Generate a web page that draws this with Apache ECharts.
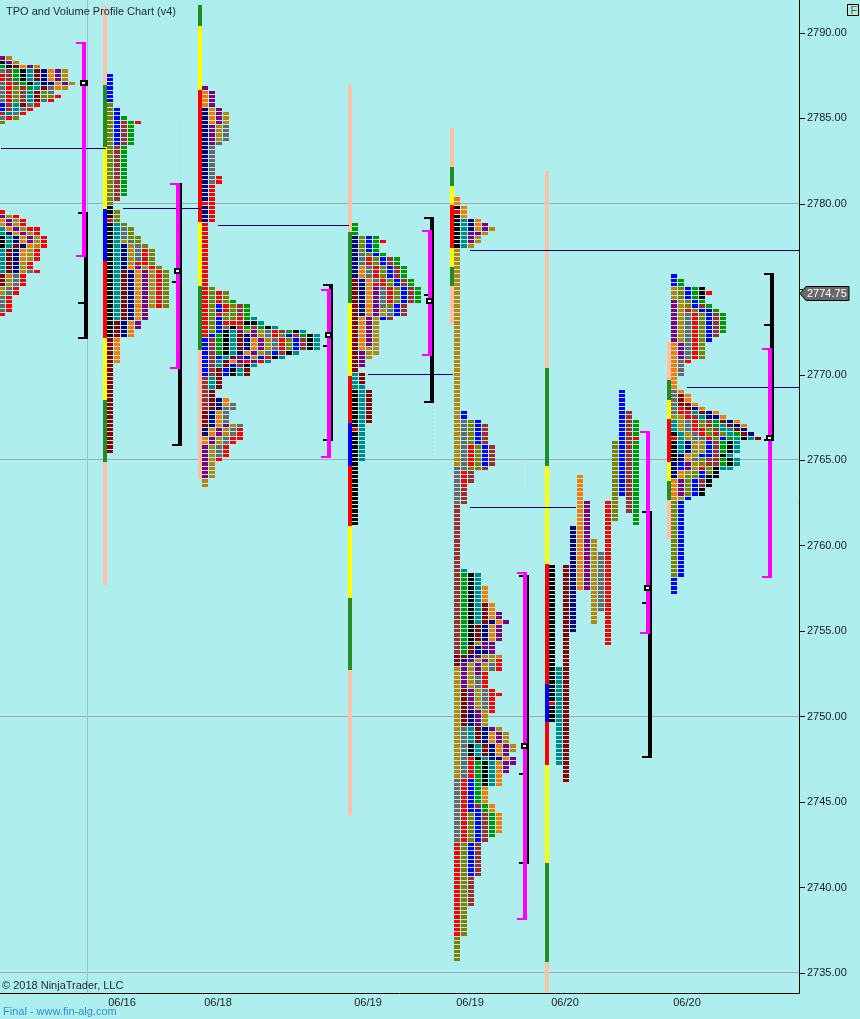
<!DOCTYPE html>
<html>
<head>
<meta charset="utf-8">
<style>html,body{margin:0;padding:0;background:#afeeee}#c{width:860px;height:1019px}</style>
<script src="https://cdn.jsdelivr.net/npm/echarts@6/dist/echarts.min.js"></script>
</head>
<body>
<div id="c"></div>
<script>
const PRICE_TICKS = [2735,2740,2745,2750,2755,2760,2765,2770,2775,2780,2785,2790];
const PRICE_LABELS = [2735,2740,2745,2750,2755,2760,2765,2770,2780,2785,2790];
const DATE_TICKS = {122:'06/16',218:'06/18',368:'06/19',470:'06/19',565:'06/20',687:'06/20'};
const LAST_PRICE = 2774.75;
const TICK_SIZE = 0.25;
const LEVELS = [2780,2765,2750,2735];
const CURSOR_SLOT = 87;
const CODES = {r:'#ff0000',b:'#0000ff',n:'#000080',k:'#000000',t:'#008b8b',m:'#8b0000',B:'#a52a2a',o:'#f87a00',g:'#009900',O:'#808000',G:'#696969',d:'#b8860b',p:'#800080',Y:'#ffff00',F:'#228b22',P:'#ffc0a8'};

// TPO columns: [top price, colour runs from the top downward; _n = n empty rows]
const P1_SLOT = -1;
const P1 = [
 [[2788.5,'p1 k1 g1 G1 r2 G5 b2 B1 G1 O1'],[2779.5,'r1 p1 o2 t2 k3 t6 m3 d2 G4 r1']],
 [[2788.5,'d1 p1 k1 B3 r5 B2 t1 r1'],[2779.25,'d1 p2 o1 n1 t3 m6 d3 G2 r4']],
 [[2788.25,'d1 m1 g3 B1 O4 t2 G1 O1'],[2779.25,'r1 d2 p1 o1 n2 m1 n6 G3 r2']],
 [[2788,'o1 k3 g1 B4 m1 G1 r1'],[2779,'r2 d1 p1 o2 n1 o3 d3 r3']],
 [[2788,'p1 t3 k1 g1 t3 G1 r1'],[2778.5,'r1 d1 p2 o1 d3 r2 G1']],
 [[2788,'d1 m3 t2 m3 r1'],[2778.5,'r2 d3 r3 _2 r1']],
 [[2787.75,'n4 m1 O2 G1'],[2778,'r3']],
 [[2787.75,'o3 n1 G2 O1 r1']],
 [[2787.75,'p3 o2 _1 r1']],
 [[2787.75,'d3 p1 d1']],
 [[2787,'d1']]
];
const P2_SLOT = 107;
const P2 = [
 [[2787.5,'b7 O24 k3 r1 k27 m27']],
 [[2785.5,'b9 B13 _2 O3 t23 m4 o6']],
 [[2785,'g1 B6 g12 _6 O1 G3 d1 n6 m12 n4']],
 [[2784.75,'g6 _19 O3 G1 d5 o1 n12 o4']],
 [[2784.75,'r1 _26 O2 G4 r1 p1 o12 p2']],
 [[2777.5,'O1 r4 d1 p12']],
 [[2777.25,'O4 r1 d9']],
 [[2776.25,'O1 r9']],
 [[2776,'O9']]
];
const P3_SLOT = 202;
const P3 = [
 [[2786.75,'p1 o4 n22 r1 n4 r27 b9 B8 m4 n2 o2 p8 d2']],
 [[2786.5,'p4 o4 p5 G9 r9 _15 O11 b1 B9 t3 m5 n4 o2 p2 d8']],
 [[2785.5,'p4 d4 G1 _7 r2 _25 r3 b2 r1 b4 g5 b1 t2 m5 _2 n3 o4 p2 d2 G3 r1']],
 [[2785.25,'d3 G4 _35 O3 r2 O2 r1 G1 k6 t1 m2 b2 _5 o2 G4 p1 d2 G2 r3']],
 [[2774.25,'g1 O4 r1 k1 t6 m1 o1 b1 k2 _6 G2 _3 d1 G2 r2']],
 [[2774,'B3 r3 p1 m4 n1 p2 B1 t2 _11 G1 r3']],
 [[2774,'g4 k1 g1 d1 n4 o1 b1 r1 k1 m2']],
 [[2773.25,'t1 k1 B1 p2 o3 p1 d1 p1 t1']],
 [[2773,'t1 g1 d2 p3 d1 b1 r1']],
 [[2772.75,'k1 G2 d3 G1 r1 t1']],
 [[2772.75,'t1 r2 G3 b1 k1']],
 [[2772.5,'B1 O1 r3 B1 t1']],
 [[2772.5,'g1 b1 O3 k1']],
 [[2772.5,'k1 B1 b3 t1']],
 [[2772.5,'t1 g1 B3']],
 [[2772.25,'k4']],
 [[2772.25,'t4']]
];
const P4_SLOT = 352;
const P4 = [
 [[2778.75,'g3 n10 m22 t4 k9 r1 k22']],
 [[2778,'O4 G3 o3 n9 o8 p4 _1 m3 t18']],
 [[2778,'b4 O1 r2 G3 o9 p7 d3 _7 m8']],
 [[2778,'g4 b1 O2 r3 G1 r1 p7 d9']],
 [[2777.75,'r1 _2 g1 b2 O3 r2 G5 d2 b1']],
 [[2776.75,'B2 b3 O2 r4 O1 G2 B1']],
 [[2776.75,'g2 B3 b2 O4 b3']],
 [[2776.25,'g3 B2 b4 B3']],
 [[2775.5,'g2 B4']],
 [[2775,'g4']]
];
const P5_SLOT = 454;
const P5 = [
 [[2780.25,'o2 k1 r1 k8 d51 G9 B35 m3 d26 G15 r22 O6']],
 [[2779.75,'o3 t7 _38 b2 G12 r4 B4 _15 t1 g19 m1 n1 p6 m9 G12 r15 O22']],
 [[2779,'n3 p3 d1 _40 O6 r5 O1 B3 _21 k17 m2 n1 p1 d6 p5 n4 t4 k3 r5 b8 O7 b8 B7']],
 [[2779,'o3 p1 d2 _41 b6 O6 _24 t12 m4 d1 n2 p1 d1 p3 G3 d5 p4 m4 t3 k1 g10 B1 b8 B8']],
 [[2778.75,'p2 d1 _44 B5 b5 B1 _27 o4 m5 n4 p2 n1 d1 p1 d2 r4 G5 d4 n4 m3 t1 k6 o4 g2 B7']],
 [[2778.5,'d1 _50 B5 _32 o4 n1 o4 p3 d2 G2 _4 r6 _3 p1 o3 n4 t6 _4 o2 g6']],
 [[2756,'p2 o1 p4 _3 d1 r3 _5 r1 _7 d1 p3 o3 n1 o6 _6 o5']],
 [[2755.5,'p1 _25 d3 p3 o1 p3']],
 [[2748.25,'d2 _1 p2']]
];
const P6_SLOT = 549;
const P6 = [
 [[2758.75,'k32 r1 k4']],
 [[2752.75,'t23']],
 [[2758.75,'m51']],
 [[2761,'n25']],
 [[2764,'o27']],
 [[2762.5,'p21']],
 [[2760.25,'d20']],
 [[2759.5,'G14']],
 [[2762.5,'r34']],
 [[2766,'O19']],
 [[2769,'b25']],
 [[2767.75,'B24']],
 [[2767.25,'g4 r1 g20']]
];
const P7_SLOT = 671;
const P7 = [
 [[2775.75,'b3 d3 p10 o11 G6 d1 t3 k1 r1 k5 n4 o5 O18 b4']],
 [[2775.5,'g2 O3 d10 p4 G4 _3 o1 m3 r2 d4 t5 n2 b2 o2 p4 d1 b18']],
 [[2775,'b3 O2 r1 G11 r1 _7 o2 m2 r2 G3 d2 n3 o2 p2 d1 O5 b1']],
 [[2775,'g3 b2 O1 r11 _10 o1 n1 t1 B1 r3 G2 d4 G1 d2 O2 b4']],
 [[2775,'k3 g1 B1 b1 O11 _11 o1 m1 t1 O2 r2 G1 d3 b1 O2 r1 b2 B2 k2']],
 [[2774.75,'r1 _2 g1 n1 b7 _16 n2 B2 O2 r1 b4 B2 O2 k3']],
 [[2773.75,'g1 B6 _17 o1 n1 g2 B2 O1 B6 k3']],
 [[2773.5,'g5 _19 o1 m1 t2 O1 b1 g3 k1 g2 t1']],
 [[2767.25,'n1 m1 t2 g1 k3 t1 k2 t1']],
 [[2767.25,'o1 n1 m1 g1 t4 _1 t2']],
 [[2767,'o1 n1 m1 k1']],
 [[2766.5,'n1 t1']],
 [[2766.25,'m1']]
];
const PROFILES = [[P1_SLOT,P1],[P2_SLOT,P2],[P3_SLOT,P3],[P4_SLOT,P4],[P5_SLOT,P5],[P6_SLOT,P6],[P7_SLOT,P7]];

// Session bars: [slot, top price, bottom price, colour]
const BARS = [
 [103,2791.64,2786.96,'P'],[103,2786.96,2783.33,'F'],[103,2783.33,2779.7,'Y'],[103,2779.7,2776.66,'b'],[103,2776.66,2772.15,'r'],[103,2772.15,2768.53,'Y'],[103,2768.53,2764.9,'F'],[103,2764.9,2757.7,'P'],
 [198,2791.64,2790.41,'F'],[198,2790.41,2786.66,'Y'],[198,2786.66,2778.94,'r'],[198,2778.94,2775.2,'Y'],[198,2775.2,2771.45,'F'],[198,2771.45,2763.9,'P'],
 [348,2786.96,2778.36,'P'],[348,2778.36,2774.2,'F'],[348,2774.2,2769.93,'Y'],[348,2769.93,2767.18,'r'],[348,2767.18,2764.66,'b'],[348,2764.66,2761.15,'r'],[348,2761.15,2756.94,'Y'],[348,2756.94,2752.73,'F'],[348,2752.73,2744.24,'P'],
 [450,2784.44,2782.18,'P'],[450,2782.18,2781.05,'F'],[450,2781.05,2779.94,'Y'],[450,2779.94,2777.4,'r'],[450,2777.4,2776.33,'Y'],[450,2776.33,2775.2,'F'],[450,2775.2,2772.9,'P'],
 [545,2781.93,2770.4,'P'],[545,2770.4,2764.66,'F'],[545,2764.66,2758.93,'Y'],[545,2758.93,2751.9,'r'],[545,2751.9,2749.68,'b'],[545,2749.68,2747.17,'r'],[545,2747.17,2741.43,'Y'],[545,2741.43,2735.64,'F'],[545,2735.64,2733.89,'P'],
 [667,2771.94,2769.7,'P'],[667,2769.7,2768.5,'F'],[667,2768.5,2767.41,'Y'],[667,2767.41,2764.9,'r'],[667,2764.9,2763.78,'Y'],[667,2763.78,2762.67,'F'],[667,2762.67,2760.4,'P']
];

// Naked price lines: [price, from slot, to slot]
const PRICE_LINES = [[2783.25,1,106],[2779.75,123,201],[2778.75,218,349],[2777.25,470,799],[2770,368,453],[2762.25,470,576],[2769.25,687,799]];

// Brackets: [slot, top, bottom, cap prices]
const BLACK_BRACKETS = [
 [84,2779.44,2772.15,[2779.44,2774.23,2772.15]],
 [178,2781.19,2765.89,[2775.43,2765.89]],
 [329,2775.23,2766.16,[2775.23,2771.69,2766.16]],
 [430,2779.18,2768.41,[2779.18,2774.67,2768.41]],
 [525,2758.23,2741.44,[2758.23,2746.64,2741.44]],
 [648,2761.97,2747.64,[2761.97,2756.67,2747.64]],
 [770,2775.92,2766.19,[2775.92,2772.91,2766.19]]
];
const MAGENTA_BRACKETS = [
 [82,2789.44,2776.95,[2789.44,2776.95]],
 [176,2781.19,2770.4,[2781.19,2770.4]],
 [327,2774.96,2765.21,[2774.96,2765.21]],
 [428,2778.43,2771.16,[2778.43,2771.16]],
 [523,2758.42,2738.16,[2758.42,2738.16]],
 [646,2766.67,2754.89,[2766.67,2754.89]],
 [768,2771.49,2758.17,[2771.49,2758.17]]
];
// Point of control markers: [slot, price]
const POC = [[80,2787.1],[174,2776.05],[325,2772.33],[426,2774.32],[521,2748.28],[644,2757.52],[766,2766.3]];
// Faint dashes: [slot, top, bottom]
const FAINT = [[180,2784.85,2781.45],[331,2765.65,2763.9],[432,2768.35,2765.2],[432,2763.0,2762.6],[527,2765.05,2763.45],[527,2779.2,2778.95],[650,2767.3,2762.1],[772,2766.1,2764.4]];

function expand(){
  const out=[];
  PROFILES.forEach(([slot,cols])=>{
    cols.forEach((blocks,i)=>{
      blocks.forEach(([top,runs])=>{
        let p=top;
        runs.split(' ').forEach(tok=>{
          const code=tok[0], n=+tok.slice(1);
          for(let j=0;j<n;j++){
            if(code!=='_') out.push([slot+i*7,p,code]);
            p-=TICK_SIZE;
          }
        });
      });
    });
  });
  return out;
}
const cells=expand();
const FONT="'Liberation Sans', Arial, sans-serif";
function rect(x,y,w,h,fill){return {type:'rect',shape:{x,y,width:w,height:h},style:{fill}};}

const chart=echarts.init(document.getElementById('c'),null,{renderer:'canvas'});
chart.setOption({
  animation:false,
  backgroundColor:'#afeeee',
  title:{text:'TPO and Volume Profile Chart (v4)',left:6,top:6,padding:0,textStyle:{fontSize:11,fontWeight:'normal',color:'#1c2a2a',fontFamily:FONT}},
  grid:{left:0,top:0,width:799,height:993,containLabel:false},
  xAxis:{type:'value',min:0,max:799,splitLine:{show:false},axisTick:{show:false},
    axisLine:{show:true,onZero:false,lineStyle:{color:'#000',width:1}},
    axisLabel:{customValues:Object.keys(DATE_TICKS).map(Number),formatter:v=>DATE_TICKS[v]||'',color:'#222',fontSize:11,fontFamily:FONT,margin:4}},
  yAxis:{type:'value',position:'right',min:2733.83,max:2791.93,splitLine:{show:false},
    axisLine:{show:true,onZero:false,lineStyle:{color:'#000',width:1}},
    axisTick:{show:true,length:6,customValues:PRICE_TICKS,lineStyle:{color:'#000'}},
    axisLabel:{customValues:PRICE_LABELS,formatter:v=>v.toFixed(2),color:'#1a1a2a',fontSize:11,fontFamily:FONT,margin:8}},
  graphic:[
    {type:'text',left:2,top:980,style:{text:'© 2018 NinjaTrader, LLC',font:'11px '+FONT,fill:'#1c2a2a'}},
    {type:'text',left:3,top:1006,style:{text:'Final - www.fin-alg.com',font:'11px '+FONT,fill:'#2f8fd0'}},
    {type:'group',left:847,top:4,children:[
      {type:'rect',shape:{x:0.5,y:0.5,width:11,height:11},style:{fill:'transparent',stroke:'#000',lineWidth:1}},
      {type:'text',x:3.5,y:1,style:{text:'F',font:'11px '+FONT,fill:'#6a5a20'}}
    ]}
  ],
  series:[
    {type:'custom',name:'levels',silent:true,z:1,data:LEVELS,encode:{y:0},renderItem:(params,api)=>{
      const y=Math.floor(api.coord([0,api.value(0)])[1]-0.4);
      return rect(0,y,799,1,'#a9a9a9');
    }},
    {type:'custom',name:'cursor',silent:true,z:1,data:[[CURSOR_SLOT]],encode:{x:0},renderItem:(params,api)=>{
      const p=api.coord([api.value(0),2791.93]),q=api.coord([api.value(0),2733.83]);
      return rect(p[0],p[1],1,q[1]-p[1],'#a9bcbc');
    }},
    {type:'custom',name:'faint',silent:true,z:2,data:FAINT,encode:{x:0,y:[1,2]},renderItem:(params,api)=>{
      const p=api.coord([api.value(0),api.value(1)]),q=api.coord([api.value(0),api.value(2)]);
      return {type:'line',shape:{x1:p[0]+.5,y1:p[1],x2:q[0]+.5,y2:q[1]},style:{stroke:'#bcd6f5',lineWidth:1,lineDash:[2,2]}};
    }},
    {type:'custom',name:'bars',silent:true,z:3,data:BARS.map(b=>[b[0],b[1],b[2]]),encode:{x:0,y:[1,2]},renderItem:(params,api)=>{
      const a=api.coord([api.value(0),api.value(1)]),b=api.coord([api.value(0),api.value(2)]);
      const top=Math.round(a[1]),bot=Math.round(b[1]);
      return rect(Math.round(a[0]),top,4,bot-top,CODES[BARS[params.dataIndex][3]]);
    }},
    {type:'custom',name:'tpo',silent:true,z:4,data:cells.map(c=>[c[0],c[1]]),encode:{x:0,y:1},renderItem:(params,api)=>{
      const x=api.value(0),p=api.value(1);
      const t=Math.round(api.coord([x,p+TICK_SIZE/2])[1]),b=Math.round(api.coord([x,p-TICK_SIZE/2])[1]);
      return rect(Math.round(api.coord([x,p])[0]),t,6,Math.max(b-t-1,3),CODES[cells[params.dataIndex][2]]);
    }},
    {type:'custom',name:'lines',silent:true,z:5,data:PRICE_LINES,encode:{x:[1,2],y:0},renderItem:(params,api)=>{
      const a=api.coord([api.value(1),api.value(0)]),b=api.coord([api.value(2),api.value(0)]);
      return rect(a[0],Math.floor(a[1]),b[0]-a[0],1,'#000080');
    }},
    {type:'custom',name:'black',silent:true,z:6,data:BLACK_BRACKETS.map(b=>[b[0],b[1],b[2]]),encode:{x:0,y:[1,2]},renderItem:(params,api)=>{
      const x=api.coord([api.value(0),0])[0],t=Math.round(api.coord([0,api.value(1)])[1]),b=Math.round(api.coord([0,api.value(2)])[1]);
      const kids=[rect(x,t-1,4,b-t+2,'#000')];
      BLACK_BRACKETS[params.dataIndex][3].forEach(c=>{const y=Math.round(api.coord([0,c])[1]);kids.push(rect(x-6,y-1,6,2,'#000'));});
      return {type:'group',children:kids};
    }},
    {type:'custom',name:'magenta',silent:true,z:7,data:MAGENTA_BRACKETS.map(b=>[b[0],b[1],b[2]]),encode:{x:0,y:[1,2]},renderItem:(params,api)=>{
      const x=api.coord([api.value(0),0])[0],t=Math.round(api.coord([0,api.value(1)])[1]),b=Math.round(api.coord([0,api.value(2)])[1]);
      const kids=[rect(x,t-1,4,b-t+2,'#ff00ff')];
      MAGENTA_BRACKETS[params.dataIndex][3].forEach(c=>{const y=Math.round(api.coord([0,c])[1]);kids.push(rect(x-6,y-1,6,2,'#ff00ff'));});
      return {type:'group',children:kids};
    }},
    {type:'custom',name:'poc',silent:true,z:8,data:POC,encode:{x:0,y:1},renderItem:(params,api)=>{
      const c=api.coord([api.value(0),api.value(1)]);const y=Math.round(c[1]);
      return {type:'group',children:[rect(c[0],y-3,8,6,'#000'),rect(c[0]+2,y-1,3,2,'#ffffff')]};
    }},
    {type:'custom',name:'last',silent:true,z:9,clip:false,data:[[799,LAST_PRICE]],encode:{x:0,y:1},renderItem:(params,api)=>{
      const c=api.coord([api.value(0),api.value(1)]);const x=c[0],y=Math.round(c[1])-.5;
      return {type:'group',children:[
        {type:'polygon',shape:{points:[[x+1,y],[x+7,y-7],[x+50,y-7],[x+50,y+7],[x+7,y+7]]},style:{fill:'#696969',stroke:'#000',lineWidth:1}},
        {type:'text',x:x+8,y:y,style:{text:api.value(1).toFixed(2),font:'11px '+FONT,fill:'#ffffff',textVerticalAlign:'middle'}}
      ]};
    }}
  ]
});
</script>
</body>
</html>
